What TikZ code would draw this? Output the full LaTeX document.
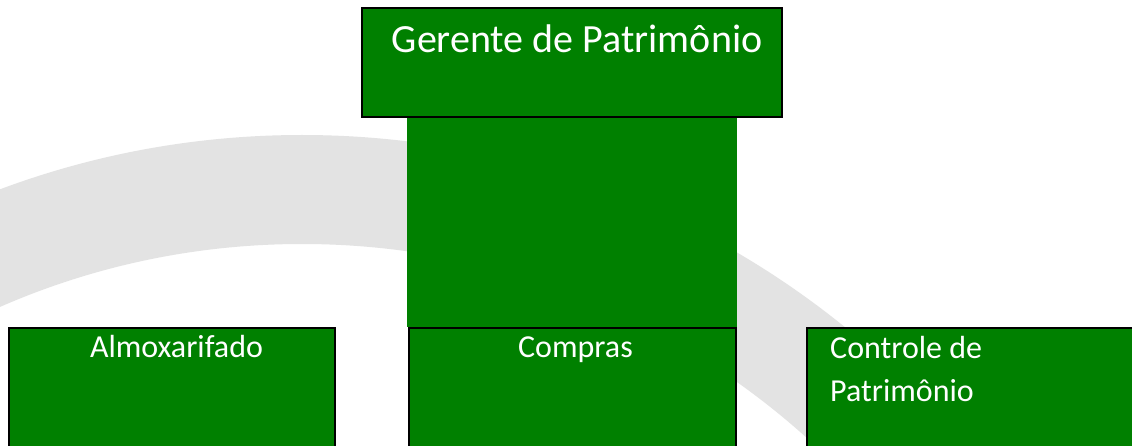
\documentclass[tikz,border=0pt]{standalone}
\usepackage{fontspec}
\setmainfont{Carlito}
\definecolor{boxgreen}{RGB}{0,128,0}
\definecolor{arcgray}{RGB}{227,227,227}
\begin{document}
\begin{tikzpicture}[x=1pt,y=-1pt,
  box/.style={draw=black, line width=2pt, fill=boxgreen, rectangle, inner sep=0pt, outer sep=0pt, anchor=north west},
  lbl/.style={text=white, font=\fontsize{32}{38}\selectfont, inner sep=0pt, anchor=base},
  link/.style={fill=boxgreen},
]
\useasboundingbox (0,0) rectangle (1132,446);
\clip (0,0) rectangle (1132,446);
\fill[white] (0,0) rectangle (1132,446);
\fill[arcgray, even odd rule] (302,998) circle[radius=863pt] (302,998) circle[radius=754pt];
\node[box, minimum width=420pt, minimum height=109pt] (top) at (362,8) {};
\node[box, minimum width=326pt, minimum height=150pt] (almox) at (9,327.5) {};
\node[box, minimum width=327pt, minimum height=150pt] (comp) at (408.5,327.5) {};
\node[box, minimum width=400pt, minimum height=150pt] (ctrl) at (807,327.5) {};
\fill[link] ([xshift=-1.5pt,yshift=-1pt]comp.north west |- top.south) rectangle ([xshift=1.5pt,yshift=1pt]comp.north east);
\node[lbl, font=\fontsize{40}{48}\selectfont] (ttop) at (577,53) {Gerente de Patrimônio};
\node[lbl] (talm) at (176.5,357) {Almoxarifado};
\node[lbl] (tcomp) at (575.5,357) {Compras};
\node[lbl, anchor=base west] (tctl1) at (830,358) {Controle de};
\node[lbl, anchor=base west] (tctl2) at (830,401) {Patrimônio};
\end{tikzpicture}
\end{document}
